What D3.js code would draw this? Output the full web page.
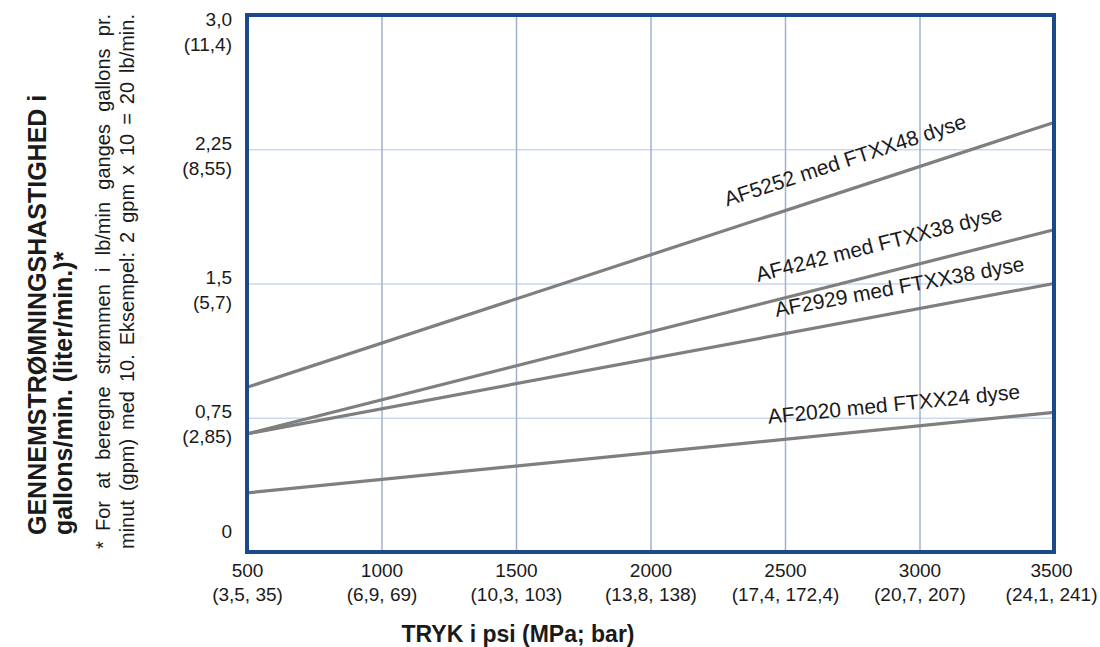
<!DOCTYPE html>
<html>
<head>
<meta charset="utf-8">
<script src="https://cdn.jsdelivr.net/npm/d3@7"></script>
<style>
  body { margin: 0; background: #fff; }
  text { font-family: "Liberation Sans", Arial, Helvetica, sans-serif; fill: #1a1a1a; }
</style>
</head>
<body>
<div id="chart"></div>
<script>
/* global d3 */

// Pressure axis (psi) and the metric values under each tick
const pressureTicks = [500, 1000, 1500, 2000, 2500, 3000, 3500]
const pressureMetric = ['(3,5, 35)', '(6,9, 69)', '(10,3, 103)', '(13,8, 138)',
  '(17,4, 172,4)', '(20,7, 207)', '(24,1, 241)']

// Flow axis (gpm) and litre values
const flowTicks = [0, 0.75, 1.5, 2.25, 3.0]
const flowLabels = ['0', '0,75', '1,5', '2,25', '3,0']
const flowMetric = ['', '(2,85)', '(5,7)', '(8,55)', '(11,4)']

// Series: flow in gpm at 500 and 3500 psi
const seriesPressure = [500, 3500]
const seriesNames = ['AF5252 med FTXX48 dyse', 'AF4242 med FTXX38 dyse',
  'AF2929 med FTXX38 dyse', 'AF2020 med FTXX24 dyse']
const flowAF5252 = [0.92, 2.40]
const flowAF4242 = [0.66, 1.80]
const flowAF2929 = [0.66, 1.50]
const flowAF2020 = [0.33, 0.78]
const seriesFlow = [flowAF5252, flowAF4242, flowAF2929, flowAF2020]

// where along each line its label starts (psi)
const labelStart = [2310, 2420, 2480, 2445]

const width = 1100,
  height = 647
const plotLeft = 247, plotRight = 1054, plotTop = 15, plotBottom = 552

const x = d3.scaleLinear().domain([500, 3500]).range([plotLeft, plotRight])
const y = d3.scaleLinear().domain([0, 3]).range([plotBottom, plotTop])

const svg = d3.select('#chart')
  .append('svg')
  .attr('width', width)
  .attr('height', height)

// horizontal grid
svg.append('g')
  .attr('transform', `translate(${plotLeft},0)`)
  .call(d3.axisLeft(y).tickValues(flowTicks.slice(1, -1)).tickSize(-(plotRight - plotLeft)).tickFormat(''))
  .call(g => g.select('.domain').remove())
  .call(g => g.selectAll('line').attr('stroke', '#c9d9ef').attr('stroke-width', 1.5))

// vertical grid
svg.append('g')
  .attr('transform', `translate(0,${plotBottom})`)
  .call(d3.axisBottom(x).tickValues(pressureTicks.slice(1, -1)).tickSize(-(plotBottom - plotTop)).tickFormat(''))
  .call(g => g.select('.domain').remove())
  .call(g => g.selectAll('line').attr('stroke', '#9fb1cc').attr('stroke-width', 1.5))

// lines
const line = d3.line()
  .x((d, i) => x(seriesPressure[i]))
  .y(d => y(d))

svg.selectAll('path.flow')
  .data(seriesFlow)
  .enter()
  .append('path')
  .attr('class', 'flow')
  .attr('d', line)
  .attr('fill', 'none')
  .attr('stroke', '#7f7f7f')
  .attr('stroke-width', 3.2)

// labels along the lines
const labelGap = [22, 22, 18, 17]
seriesFlow.forEach((f, i) => {
  const angle = Math.atan2(y(f[1]) - y(f[0]), x(seriesPressure[1]) - x(seriesPressure[0])) * 180 / Math.PI
  const p = labelStart[i]
  const v = f[0] + (f[1] - f[0]) * (p - seriesPressure[0]) / (seriesPressure[1] - seriesPressure[0])
  svg.append('text')
    .attr('transform', `translate(${x(p)},${y(v)}) rotate(${angle})`)
    .attr('y', -labelGap[i])
    .attr('font-size', 21)
    .text(seriesNames[i])
})

// frame
svg.append('rect')
  .attr('x', plotLeft)
  .attr('y', plotTop)
  .attr('width', plotRight - plotLeft)
  .attr('height', plotBottom - plotTop)
  .attr('fill', 'none')
  .attr('stroke', '#1b4a8b')
  .attr('stroke-width', 4)

// x tick labels
svg.append('g')
  .attr('transform', `translate(0,${plotBottom})`)
  .call(d3.axisBottom(x).tickValues(pressureTicks).tickSize(0).tickFormat(d => d))
  .call(g => g.select('.domain').remove())
  .call(g => g.selectAll('.tick text').each(function (d, i) {
    const t = d3.select(this).attr('y', null).attr('dy', null).text(null)
      .attr('font-size', 19).attr('fill', '#1a1a1a')
    t.append('tspan').attr('x', 0).attr('y', 25).text(d)
    const sub = t.append('tspan').attr('x', 0).attr('y', 49).text(pressureMetric[i])
    // keep the last label inside the page
    const over = x(d) + sub.node().getComputedTextLength() / 2 - (width - 3)
    if (over > 0) t.attr('transform', `translate(${-over},0)`)
  }))

// y tick labels
svg.append('g')
  .attr('transform', `translate(${plotLeft},0)`)
  .call(d3.axisLeft(y).tickValues(flowTicks).tickSize(0).tickPadding(15).tickFormat((d, i) => flowLabels[i]))
  .call(g => g.select('.domain').remove())
  .call(g => g.selectAll('.tick text').each(function (d, i) {
    let shift = 0
    if (i === 0) shift = -15
    if (i === flowTicks.length - 1) shift = 10.5
    const t = d3.select(this).attr('dy', null).text(null)
      .attr('font-size', 19).attr('fill', '#1a1a1a')
    t.append('tspan').attr('x', -15).attr('y', shift).text(flowLabels[i])
    if (flowMetric[i]) t.append('tspan').attr('x', -15).attr('y', shift + 25).text(flowMetric[i])
  }))

// x axis title
svg.append('text')
  .attr('x', 518)
  .attr('y', 642)
  .attr('text-anchor', 'middle')
  .attr('font-size', 23)
  .attr('font-weight', 'bold')
  .text('TRYK i psi (MPa; bar)')

// y axis title, two lines
const yTitle = ['GENNEMSTRØMNINGSHASTIGHED i', 'gallons/min. (liter/min.)*']
yTitle.forEach((s, i) => {
  svg.append('text')
    .attr('transform', `translate(${46 + i * 26},535) rotate(-90)`)
    .attr('font-size', 25)
    .attr('font-weight', 'bold')
    .text(s)
})

// footnote, justified
const note = ['For at beregne strømmen i lb/min ganges gallons pr.',
  'minut (gpm) med 10. Eksempel: 2 gpm x 10 = 20 lb/min.']
svg.append('text')
  .attr('transform', 'translate(110,549) rotate(-90)')
  .attr('font-size', 20)
  .text('*')
const noteStart = [531, 549]
note.forEach((s, i) => {
  const t = svg.append('text')
    .attr('transform', `translate(${110 + i * 24},${noteStart[i]}) rotate(-90)`)
    .attr('font-size', 20)
    .text(s)
  const target = noteStart[i] - 14
  const len = t.node().getComputedTextLength()
  const spaces = s.split(' ').length - 1
  t.attr('word-spacing', Math.max(0, (target - len) / spaces))
})
</script>
</body>
</html>
